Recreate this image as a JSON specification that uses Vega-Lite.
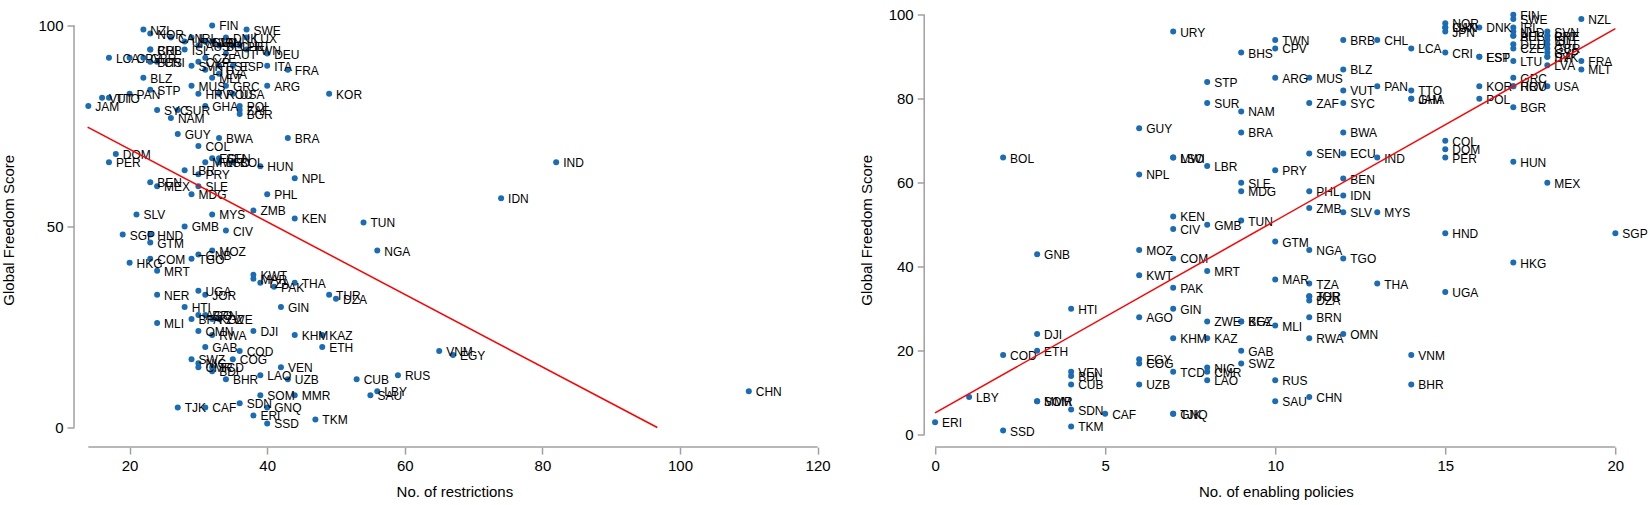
{
"$schema":"https://vega.github.io/schema/vega-lite/v6.json",
"padding":{"left":1,"top":7.5,"right":0,"bottom":4},
"bounds":"flush",
"spacing":89.2,
"config":{"view":{"stroke":null},"font":"Liberation Sans",
"axis":{"labelFontSize":15,"titleFontSize":15,"titleFontWeight":"normal","labelColor":"#000","titleColor":"#000","domain":false,"tickColor":"#a0a0a0","tickWidth":1.5,"gridColor":"#c4c4c4","gridDash":[1,2],"gridWidth":1,"tickSize":7,"labelPadding":4}},
"datasets":{
"countries":[
{"c":"FIN","r":32,"e":17,"f":100},{"c":"SWE","r":37,"e":17,"f":99},{"c":"NOR","r":23,"e":15,"f":98},{"c":"NZL","r":22,"e":19,"f":99},
{"c":"CAN","r":26,"e":15,"f":97},{"c":"DNK","r":34,"e":16,"f":97},{"c":"LUX","r":37,"e":15,"f":97},{"c":"IRL","r":29,"e":17,"f":97},
{"c":"NLD","r":31,"e":17,"f":96},{"c":"URY","r":28,"e":7,"f":96},{"c":"JPN","r":32,"e":15,"f":96},{"c":"BEL","r":33,"e":17,"f":95},
{"c":"PRT","r":36,"e":18,"f":95},{"c":"AUS","r":30,"e":17,"f":95},{"c":"CHE","r":35,"e":18,"f":95},{"c":"EST","r":33,"e":16,"f":90},
{"c":"ISL","r":28,"e":18,"f":94},{"c":"DEU","r":40,"e":17,"f":93},{"c":"AUT","r":34,"e":18,"f":93},{"c":"GBR","r":22,"e":18,"f":92},
{"c":"CZE","r":31,"e":17,"f":92},{"c":"CPV","r":20,"e":10,"f":92},{"c":"BHS","r":23,"e":9,"f":91},{"c":"CRI","r":24,"e":15,"f":91},
{"c":"LCA","r":17,"e":14,"f":92},{"c":"BRB","r":23,"e":12,"f":94},{"c":"CHL","r":23,"e":13,"f":94},{"c":"TWN","r":37,"e":10,"f":94},
{"c":"SVN","r":31,"e":18,"f":96},{"c":"SVK","r":29,"e":18,"f":90},{"c":"ESP","r":35,"e":16,"f":90},{"c":"ITA","r":40,"e":18,"f":90},
{"c":"CYP","r":30,"e":18,"f":91},{"c":"LTU","r":31,"e":17,"f":89},{"c":"LVA","r":33,"e":18,"f":88},{"c":"MLT","r":32,"e":19,"f":87},
{"c":"FRA","r":43,"e":19,"f":89},{"c":"GRC","r":34,"e":17,"f":85},{"c":"HRV","r":30,"e":17,"f":83},{"c":"ROU","r":33,"e":17,"f":83},
{"c":"USA","r":35,"e":18,"f":83},{"c":"KOR","r":49,"e":16,"f":83},{"c":"POL","r":36,"e":16,"f":80},{"c":"BGR","r":36,"e":17,"f":78},
{"c":"ARG","r":40,"e":10,"f":85},{"c":"MUS","r":29,"e":11,"f":85},{"c":"STP","r":23,"e":8,"f":84},{"c":"PAN","r":20,"e":13,"f":83},
{"c":"VUT","r":16,"e":12,"f":82},{"c":"TTO","r":17,"e":14,"f":82},{"c":"JAM","r":14,"e":14,"f":80},{"c":"GHA","r":31,"e":14,"f":80},
{"c":"SYC","r":24,"e":12,"f":79},{"c":"SUR","r":27,"e":8,"f":79},{"c":"ZAF","r":36,"e":11,"f":79},{"c":"NAM","r":26,"e":9,"f":77},
{"c":"BLZ","r":22,"e":12,"f":87},{"c":"GUY","r":27,"e":6,"f":73},{"c":"BWA","r":33,"e":12,"f":72},{"c":"BRA","r":43,"e":9,"f":72},
{"c":"COL","r":30,"e":15,"f":70},{"c":"DOM","r":18,"e":15,"f":68},{"c":"PER","r":17,"e":15,"f":66},{"c":"ECU","r":32,"e":12,"f":67},
{"c":"SEN","r":33,"e":11,"f":67},{"c":"MWI","r":31,"e":7,"f":66},{"c":"LSO","r":33,"e":7,"f":66},{"c":"BOL","r":35,"e":2,"f":66},
{"c":"IND","r":82,"e":13,"f":66},{"c":"HUN","r":39,"e":17,"f":65},{"c":"LBR","r":28,"e":8,"f":64},{"c":"PRY","r":30,"e":10,"f":63},
{"c":"NPL","r":44,"e":6,"f":62},{"c":"BEN","r":23,"e":12,"f":61},{"c":"MEX","r":24,"e":18,"f":60},{"c":"SLE","r":30,"e":9,"f":60},
{"c":"MDG","r":29,"e":9,"f":58},{"c":"PHL","r":40,"e":11,"f":58},{"c":"IDN","r":74,"e":12,"f":57},{"c":"ZMB","r":38,"e":11,"f":54},
{"c":"SLV","r":21,"e":12,"f":53},{"c":"MYS","r":32,"e":13,"f":53},{"c":"KEN","r":44,"e":7,"f":52},{"c":"TUN","r":54,"e":9,"f":51},
{"c":"GMB","r":28,"e":8,"f":50},{"c":"CIV","r":34,"e":7,"f":49},{"c":"SGP","r":19,"e":20,"f":48},{"c":"HND","r":23,"e":15,"f":48},
{"c":"GTM","r":23,"e":10,"f":46},{"c":"MOZ","r":32,"e":6,"f":44},{"c":"NGA","r":56,"e":11,"f":44},{"c":"GNB","r":30,"e":3,"f":43},
{"c":"COM","r":23,"e":7,"f":42},{"c":"TGO","r":29,"e":12,"f":42},{"c":"HKG","r":20,"e":17,"f":41},{"c":"MRT","r":24,"e":8,"f":39},
{"c":"KWT","r":38,"e":6,"f":38},{"c":"MAR","r":38,"e":10,"f":37},{"c":"TZA","r":39,"e":11,"f":36},{"c":"THA","r":44,"e":13,"f":36},
{"c":"PAK","r":41,"e":7,"f":35},{"c":"UGA","r":30,"e":15,"f":34},{"c":"TUR","r":49,"e":11,"f":33},{"c":"JOR","r":31,"e":11,"f":33},
{"c":"NER","r":24,"e":null,"f":33},{"c":"DZA","r":50,"e":11,"f":32},{"c":"GIN","r":42,"e":7,"f":30},{"c":"HTI","r":28,"e":4,"f":30},
{"c":"BFA","r":29,"e":9,"f":27},{"c":"AGO","r":30,"e":6,"f":28},{"c":"BRN","r":31,"e":11,"f":28},{"c":"KGZ","r":32,"e":9,"f":27},
{"c":"ZWE","r":33,"e":8,"f":27},{"c":"MLI","r":24,"e":10,"f":26},{"c":"OMN","r":30,"e":12,"f":24},{"c":"DJI","r":38,"e":3,"f":24},
{"c":"RWA","r":32,"e":11,"f":23},{"c":"KHM","r":44,"e":7,"f":23},{"c":"KAZ","r":48,"e":8,"f":23},{"c":"ETH","r":48,"e":3,"f":20},
{"c":"GAB","r":31,"e":9,"f":20},{"c":"COD","r":36,"e":2,"f":19},{"c":"VNM","r":65,"e":14,"f":19},{"c":"EGY","r":67,"e":6,"f":18},
{"c":"COG","r":35,"e":6,"f":17},{"c":"SWZ","r":29,"e":9,"f":17},{"c":"NIC","r":30,"e":8,"f":16},{"c":"CMR","r":30,"e":8,"f":15},
{"c":"TCD","r":32,"e":7,"f":15},{"c":"VEN","r":42,"e":4,"f":15},{"c":"BDI","r":32,"e":4,"f":14},{"c":"LAO","r":39,"e":8,"f":13},
{"c":"RUS","r":59,"e":10,"f":13},{"c":"BHR","r":34,"e":14,"f":12},{"c":"UZB","r":43,"e":6,"f":12},{"c":"CUB","r":53,"e":4,"f":12},
{"c":"LBY","r":56,"e":1,"f":9},{"c":"CHN","r":110,"e":11,"f":9},{"c":"MMR","r":44,"e":3,"f":8},{"c":"SOM","r":39,"e":3,"f":8},
{"c":"SAU","r":55,"e":10,"f":8},{"c":"SDN","r":36,"e":4,"f":6},{"c":"TJK","r":27,"e":7,"f":5},{"c":"CAF","r":31,"e":5,"f":5},
{"c":"GNQ","r":40,"e":7,"f":5},{"c":"ERI","r":38,"e":0,"f":3},{"c":"TKM","r":47,"e":4,"f":2},{"c":"SSD","r":40,"e":2,"f":1}
],
"lineL":[{"x":13.9,"y":74.7},{"x":96.7,"y":0}],
"lineR":[{"x":0,"y":5.2},{"x":20,"y":96.7}]
},
"hconcat":[
{"width":760.8,"height":434.6,
"layer":[
{"data":{"values":[{}]},"mark":{"type":"rule","color":"#a0a0a0","strokeWidth":1.5},
"encoding":{"x":{"datum":11.92,"type":"quantitative","scale":{"domain":[11.92,122.5],"nice":false,"zero":false},"axis":{"values":[20,40,60,80,100,120],"title":"No. of restrictions","titlePadding":11,"labelPadding":4}},
"y":{"datum":0,"type":"quantitative","scale":{"domain":[-4.88,103.23],"nice":false,"zero":false},"axis":{"values":[0,50,100],"title":"Global Freedom Score","titlePadding":21}},"y2":{"datum":100}}},
{"data":{"values":[{}]},"mark":{"type":"rule","color":"#a0a0a0","strokeWidth":1.5},
"encoding":{"x":{"datum":14,"type":"quantitative"},"x2":{"datum":120},"y":{"datum":-4.88,"type":"quantitative"}}},
{"data":{"name":"countries"},"mark":{"type":"circle","size":36,"opacity":1,"color":"#1a6db4"},
"encoding":{"x":{"field":"r","type":"quantitative"},"y":{"field":"f","type":"quantitative"}}},
{"data":{"name":"countries"},"mark":{"type":"text","align":"left","baseline":"middle","dx":7,"dy":1,"fontSize":12,"color":"#000"},
"encoding":{"x":{"field":"r","type":"quantitative"},"y":{"field":"f","type":"quantitative"},"text":{"field":"c"}}},
{"data":{"name":"lineL"},"mark":{"type":"line","color":"#ff0000","strokeWidth":1.5},
"encoding":{"x":{"field":"x","type":"quantitative"},"y":{"field":"y","type":"quantitative"}}}
]},
{"width":703.4,"height":434.6,
"layer":[
{"data":{"values":[{}]},"mark":{"type":"rule","color":"#a0a0a0","strokeWidth":1.5},
"encoding":{"x":{"datum":-0.32,"type":"quantitative","scale":{"domain":[-0.32,20.36],"nice":false,"zero":false},"axis":{"values":[0,5,10,15,20],"title":"No. of enabling policies","titlePadding":11,"labelPadding":4}},
"y":{"datum":0,"type":"quantitative","scale":{"domain":[-2.93,100.55],"nice":false,"zero":false},"axis":{"values":[0,20,40,60,80,100],"title":"Global Freedom Score","titlePadding":14}},"y2":{"datum":100}}},
{"data":{"values":[{}]},"mark":{"type":"rule","color":"#a0a0a0","strokeWidth":1.5},
"encoding":{"x":{"datum":0,"type":"quantitative"},"x2":{"datum":20},"y":{"datum":-2.93,"type":"quantitative"}}},
{"data":{"name":"countries"},"mark":{"type":"circle","size":36,"opacity":1,"color":"#1a6db4"},
"encoding":{"x":{"field":"e","type":"quantitative"},"y":{"field":"f","type":"quantitative"}}},
{"data":{"name":"countries"},"mark":{"type":"text","align":"left","baseline":"middle","dx":7,"dy":1,"fontSize":12,"color":"#000"},
"encoding":{"x":{"field":"e","type":"quantitative"},"y":{"field":"f","type":"quantitative"},"text":{"field":"c"}}},
{"data":{"name":"lineR"},"mark":{"type":"line","color":"#ff0000","strokeWidth":1.5},
"encoding":{"x":{"field":"x","type":"quantitative"},"y":{"field":"y","type":"quantitative"}}}
]}
]
}
